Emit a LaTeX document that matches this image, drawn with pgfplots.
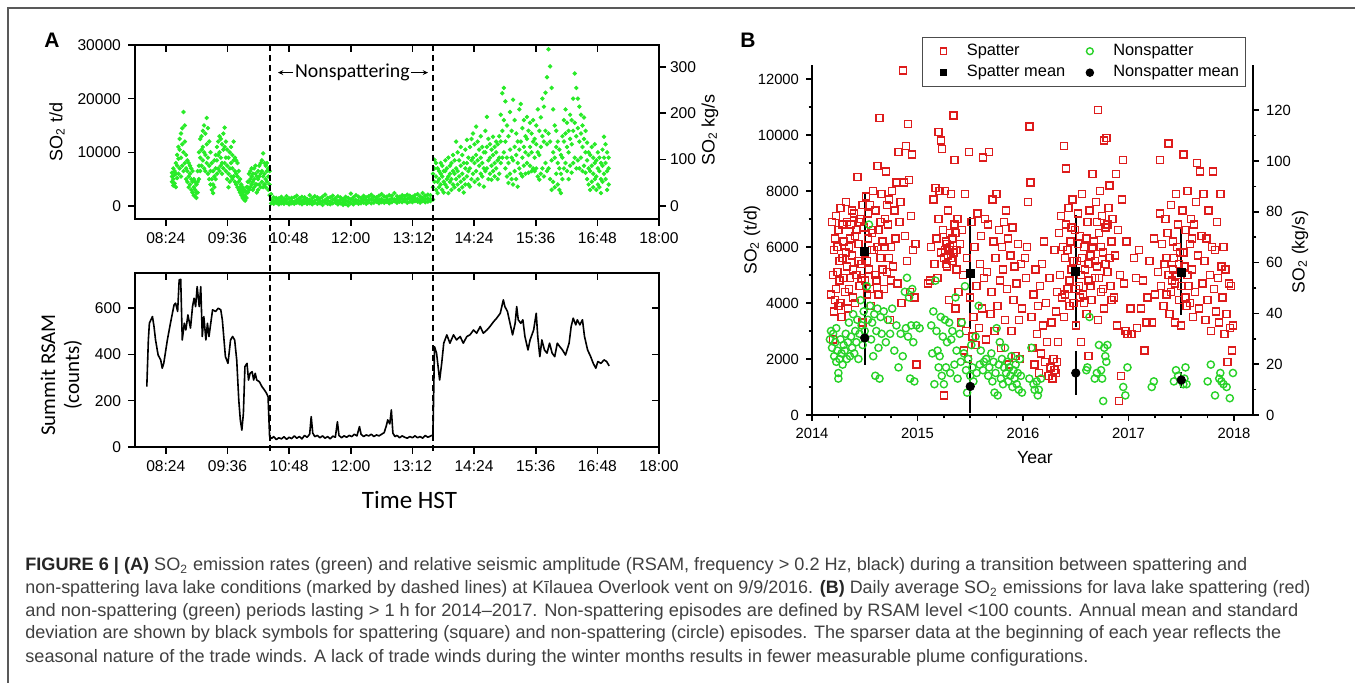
\documentclass[border=0pt]{standalone}
\usepackage{pgfplots}
\pgfplotsset{compat=1.18}
\usepackage{pgfplotstable}
\usepackage{graphicx}
\usepackage{fontspec}
\setmainfont{Liberation Sans}
\newfontfamily\calibri{Carlito}
\usetikzlibrary{arrows.meta}
\definecolor{capgray}{RGB}{64,64,64}
\definecolor{sogreen}{RGB}{40,235,40}
\definecolor{spred}{RGB}{222,28,28}
\definecolor{nsgreen}{RGB}{40,210,40}

\pgfplotstableread{
t a b c
8.52 6.2 4.5 5.5
8.545 5.0 7.0 3.8
8.57 6.5 4.2 5.8
8.595 3.5 6.0 8.0
8.62 5.2 7.5 9.5
8.645 6.0 8.8 11.0
8.67 7.0 10.5 12.5
8.695 5.5 9.0 13.5
8.72 7.5 11.5 14.5
8.745 6.5 10.0 17.5
8.77 8.0 12.0 15.0
8.795 5.0 7.0 9.5
8.82 4.5 6.5 8.5
8.845 3.5 5.5 8.0
8.87 4.0 6.0 7.5
8.895 3.0 5.0 7.0
8.92 2.5 4.5 6.5
8.945 2.0 3.5 5.0
8.97 1.8 3.0 4.5
8.995 1.5 2.5 4.0
9.02 2.5 4.5 6.5
9.045 5.0 7.5 10.0
9.07 6.5 9.0 12.5
9.095 7.5 10.5 13.0
9.12 8.5 11.0 14.0
9.145 7.0 10.0 15.0
9.17 6.5 9.5 13.5
9.195 8.0 11.5 16.4
9.22 6.0 9.0 14.5
9.245 5.0 7.5 12.0
9.27 4.0 6.5 10.0
9.295 3.0 5.0 8.0
9.32 2.4 4.0 6.5
9.345 3.5 5.5 8.5
9.37 5.0 7.0 9.5
9.395 6.0 8.5 11.0
9.42 7.0 9.5 12.0
9.445 6.5 10.0 13.0
9.47 7.5 9.0 12.5
9.495 6.0 8.0 11.5
9.52 7.0 10.5 13.5
9.545 8.0 11.0 14.6
9.57 6.5 9.0 12.0
9.595 5.0 7.5 10.5
9.62 3.5 6.0 9.0
9.645 4.5 7.0 10.0
9.67 5.5 8.0 11.0
9.695 5.0 7.0 9.5
9.72 5.5 8.5 12.0
9.745 4.5 6.5 9.0
9.77 4.0 6.0 8.5
9.795 3.5 5.5 8.0
9.82 3.0 4.5 6.5
9.845 2.5 3.5 5.0
9.87 2.0 3.0 4.0
9.895 1.5 2.5 3.5
9.92 1.2 2.0 3.0
9.945 1.0 1.8 2.8
9.97 1.5 2.5 3.5
9.995 2.5 3.5 4.5
10.02 3.0 4.5 6.0
10.045 3.5 5.0 6.5
10.07 4.0 5.5 7.0
10.095 3.0 4.5 6.0
10.12 3.5 5.0 7.0
10.145 4.0 6.0 7.5
10.17 2.5 4.0 5.5
10.195 3.0 5.0 6.5
10.22 4.0 5.5 7.5
10.245 3.5 6.0 8.0
10.27 4.5 6.5 8.5
10.295 3.5 5.5 9.8
10.32 4.0 6.0 8.0
10.345 3.5 5.0 7.5
10.37 4.5 6.5 8.0
10.395 3.0 5.5 7.0
10.42 2.0 4.0 6.5
10.45 0.5 1.2 2.2
10.5 0.4 0.9 1.6
10.55 0.6 1.1 1.5
10.6 0.3 0.8 1.4
10.65 0.5 1.0 1.7
10.7 0.4 0.9 1.3
10.75 0.6 1.2 1.8
10.8 0.3 0.7 1.4
10.85 0.5 1.0 1.5
10.9 0.4 0.8 1.6
10.95 0.6 1.1 1.9
11.0 0.5 1.0 1.4
11.05 0.3 0.9 1.7
11.1 0.6 1.2 1.6
11.15 0.4 0.8 1.3
11.2 0.5 1.1 2.0
11.25 0.3 0.9 1.5
11.3 0.6 1.0 1.8
11.35 0.4 1.2 1.6
11.4 0.5 0.8 1.4
11.45 0.2 0.9 1.7
11.5 0.6 1.1 2.1
11.55 0.4 1.0 1.5
11.6 0.3 0.8 1.6
11.65 0.5 1.2 1.9
11.7 0.6 1.0 1.4
11.75 0.3 0.9 1.8
11.8 0.5 1.1 1.6
11.85 0.2 0.7 1.3
11.9 0.4 1.0 1.7
11.95 0.1 0.8 1.5
12.0 0.5 1.2 2.3
12.05 0.3 0.9 1.6
12.1 0.6 1.1 2.0
12.15 0.4 1.0 1.7
12.2 0.5 0.9 1.5
12.25 0.6 1.2 1.9
12.3 0.4 1.0 1.6
12.35 0.7 1.1 1.8
12.4 0.5 1.3 2.1
12.45 0.6 1.0 1.7
12.5 0.8 1.2 1.6
12.55 0.5 1.1 1.9
12.6 0.7 1.3 2.2
12.65 0.6 1.0 1.8
12.7 0.8 1.2 1.7
12.75 0.5 1.1 2.0
12.8 0.7 1.4 1.9
12.85 0.9 1.2 2.4
12.9 0.6 1.3 1.8
12.95 0.8 1.1 1.7
13.0 0.7 1.4 2.0
13.05 0.9 1.2 1.8
13.1 0.6 1.3 2.1
13.15 0.8 1.5 1.9
13.2 0.7 1.2 1.7
13.25 0.9 1.4 2.0
13.3 0.8 1.3 2.2
13.35 0.6 1.1 1.8
13.4 0.9 1.5 2.4
13.45 0.7 1.2 1.9
13.5 0.8 1.4 2.1
13.55 0.9 1.3 2.0
13.6 1.2 3.5 6.0
13.63 4.5 7.0 8.6
13.66 3.0 5.5 8.0
13.69 2.4 4.5 7.0
13.72 3.5 5.0 6.5
13.75 4.0 6.0 8.0
13.78 3.0 5.5 7.5
13.81 2.5 4.5 6.5
13.84 4.0 6.5 8.5
13.87 3.5 5.0 7.0
13.9 2.4 5.5 9.0
13.93 4.5 6.0 7.5
13.96 3.0 5.0 8.0
13.99 4.0 6.5 9.5
14.02 3.5 6.0 8.5
14.05 5.0 7.0 12.0
14.08 4.0 6.5 10.0
14.11 3.0 5.5 8.5
14.14 4.5 7.5 11.0
14.17 3.5 6.0 9.5
14.2 2.5 5.0 8.0
14.23 4.0 7.0 10.5
14.26 5.5 8.0 12.3
14.29 4.0 6.5 9.0
14.32 3.6 7.0 11.0
14.35 5.0 8.5 12.5
14.38 6.0 9.0 13.5
14.41 4.5 8.0 11.5
14.44 6.5 9.5 14.8
14.47 5.0 8.5 12.0
14.5 4.0 7.5 10.5
14.53 6.0 9.0 13.0
14.56 5.5 8.0 11.0
14.59 3.6 7.0 10.0
14.62 6.5 10.0 14.0
14.65 7.0 11.0 16.6
14.68 5.0 8.5 12.5
14.71 6.0 9.0 11.5
14.74 4.9 7.5 10.5
14.77 6.5 9.5 12.9
14.8 5.5 8.0 11.0
14.83 7.0 10.0 12.0
14.86 5.0 8.5 11.5
14.89 6.0 9.0 13.0
14.92 8.0 12.0 17.0
14.95 9.0 14.0 21.0
14.98 10.0 16.0 22.0
15.01 7.0 12.0 19.5
15.04 5.5 9.0 15.0
15.07 4.3 8.0 13.0
15.1 6.0 10.5 17.5
15.13 5.0 9.0 14.0
15.16 4.0 8.5 19.8
15.19 6.5 11.0 16.0
15.22 5.0 9.5 13.5
15.25 3.6 8.0 12.0
15.28 7.0 10.5 18.0
15.31 6.0 12.0 19.0
15.34 5.5 9.0 14.5
15.37 7.5 11.0 16.0
15.4 6.0 10.0 13.0
15.43 8.0 12.5 16.6
15.46 6.2 9.5 14.0
15.49 7.5 11.0 15.5
15.52 6.5 10.0 13.5
15.55 7.0 12.0 16.0
15.58 6.5 9.0 12.5
15.61 7.0 11.5 15.0
15.64 5.5 10.0 18.0
15.67 4.9 9.5 14.0
15.7 6.0 11.0 16.5
15.73 7.0 13.0 20.0
15.76 5.5 12.0 18.5
15.79 8.0 14.0 21.1
15.82 6.5 11.5 24.0
15.85 7.0 13.5 29.2
15.88 5.0 12.0 26.0
15.91 3.0 8.5 22.0
15.94 4.5 10.0 18.0
15.97 3.5 9.0 15.0
16.0 6.0 11.0 14.0
16.03 4.0 8.0 12.0
16.06 3.0 7.0 10.5
16.09 2.4 6.0 9.5
16.12 5.0 9.0 13.0
16.15 7.0 12.0 16.0
16.18 8.0 13.5 18.0
16.21 6.5 11.0 15.5
16.24 5.0 10.0 14.0
16.27 7.5 12.5 17.0
16.3 6.2 11.5 16.0
16.33 8.0 14.0 20.0
16.36 9.0 15.5 24.7
16.39 7.0 13.0 22.0
16.42 8.5 14.5 20.0
16.45 7.0 12.0 18.5
16.48 9.0 13.5 17.0
16.51 6.5 11.0 15.0
16.54 7.5 12.5 16.5
16.57 6.2 10.0 14.0
16.6 5.0 8.5 11.8
16.63 4.0 7.0 10.0
16.66 3.0 6.5 9.5
16.69 4.5 7.5 11.0
16.72 3.5 6.0 9.0
16.75 5.0 8.0 11.5
16.78 3.0 5.5 8.5
16.81 4.0 7.0 10.0
16.84 3.5 6.5 9.0
16.87 2.4 5.0 8.0
16.9 4.5 7.5 10.5
16.93 6.0 9.0 12.9
16.96 5.0 8.0 11.5
16.99 3.0 6.5 10.0
17.02 4.0 7.0 9.0
}\greenA

\pgfplotstableread{
t v
8.03 261
8.06 462
8.08 534
8.11 549
8.14 563
8.17 520
8.2 462
8.25 397
8.3 376
8.33 340
8.36 361
8.43 462
8.49 534
8.56 613
8.59 621
8.63 585
8.66 721
8.69 724
8.72 462
8.76 534
8.79 505
8.83 570
8.88 513
8.92 606
8.95 642
8.98 606
9.01 692
9.05 606
9.08 692
9.11 477
9.14 563
9.18 462
9.21 534
9.24 477
9.31 592
9.37 585
9.42 599
9.47 592
9.5 549
9.56 390
9.61 361
9.66 462
9.7 477
9.74 462
9.78 376
9.82 203
9.85 117
9.88 73
9.91 145
9.94 347
9.98 361
10.01 289
10.04 318
10.08 325
10.11 289
10.14 318
10.17 289
10.22 282
10.27 261
10.32 246
10.36 232
10.39 217
10.42 45
10.46 37
10.5 45
10.55 32
10.6 40
10.65 35
10.7 44
10.75 33
10.8 42
10.85 36
10.9 48
10.95 38
11.0 45
11.05 35
11.1 50
11.15 42
11.2 55
11.23 131
11.26 60
11.3 45
11.35 50
11.4 40
11.45 48
11.5 38
11.55 45
11.6 35
11.65 47
11.7 42
11.74 109
11.77 50
11.82 40
11.87 48
11.92 42
11.97 50
12.02 45
12.07 55
12.12 48
12.17 88
12.2 55
12.25 45
12.3 52
12.35 48
12.4 55
12.45 45
12.5 52
12.55 48
12.6 55
12.65 62
12.69 90
12.72 117
12.76 100
12.79 160
12.82 60
12.86 45
12.9 50
12.95 40
13.0 48
13.05 42
13.1 38
13.15 45
13.2 40
13.25 48
13.3 40
13.35 45
13.4 38
13.45 50
13.5 42
13.56 48
13.6 52
13.63 433
13.67 405
13.7 347
13.73 289
13.77 361
13.81 448
13.87 484
13.93 448
14.0 484
14.06 462
14.13 477
14.19 448
14.26 477
14.32 484
14.39 505
14.45 491
14.52 520
14.58 491
14.65 505
14.71 520
14.78 541
14.84 556
14.91 577
14.97 635
15.0 606
15.05 585
15.1 534
15.15 484
15.2 534
15.23 606
15.26 549
15.31 534
15.35 549
15.39 477
15.45 419
15.49 462
15.56 505
15.61 577
15.64 477
15.68 390
15.72 462
15.77 419
15.82 405
15.87 448
15.92 405
15.97 390
16.02 448
16.07 433
16.12 419
16.18 397
16.25 448
16.29 520
16.33 556
16.38 527
16.41 549
16.46 527
16.51 549
16.55 477
16.61 419
16.67 390
16.72 361
16.77 340
16.81 369
16.87 361
16.93 376
16.98 369
17.03 350
}\rsam

\pgfplotsset{
  baseA/.style={scale only axis, width=262pt, height=87pt, anchor=south west,
    xmin=7.8, xmax=18,
    xtick={8.4,9.6,10.8,12,13.2,14.4,15.6,16.8,18},
    axis line style={line width=1pt},
    tick style={line width=0.8pt, black},
    major tick length=3.5pt,
    tick label style={font=\fontsize{7.8}{8}\selectfont}},
  baseB/.style={scale only axis, width=220.5pt, height=175pt, anchor=south west,
    at={(406pt,-207.5pt)}, xmin=2014, xmax=2018.18,
    axis line style={line width=1pt},
    tick style={line width=0.8pt, black},
    major tick length=3pt, minor tick length=1.7pt,
    tick align=outside,
    tick label style={font=\fontsize{7.4}{8}\selectfont}},
}

\begin{document}
\begin{tikzpicture}
\useasboundingbox (0pt,0pt) rectangle (677.5pt,-341.5pt);
\fill[white] (0pt,0pt) rectangle (677.5pt,-341.5pt);
\draw[black!65, line width=0.75pt] (4pt,-341.5pt) -- (4pt,-4pt) -- (677.5pt,-4pt);

% ---------- Panel A, upper ----------
\begin{axis}[baseA, at={(67.5pt,-109.5pt)}, ymin=-2.43, ymax=30,
  xticklabels={08:24,09:36,10:48,12:00,13:12,14:24,15:36,16:48,18:00},
  ytick={0,10,20,30}, yticklabels={0,10000,20000,30000},
  xtick pos=left, ytick pos=left, tick align=outside]
\addplot[only marks, mark=*, mark size=0.9pt, color=sogreen] table[x=t,y=a]{\greenA};
\addplot[only marks, mark=*, mark size=0.9pt, color=sogreen] table[x=t,y=b]{\greenA};
\addplot[only marks, mark=*, mark size=0.9pt, color=sogreen] table[x=t,y=c]{\greenA};
\end{axis}
\begin{axis}[baseA, at={(67.5pt,-109.5pt)}, ymin=-2.43, ymax=30,
  xtick pos=right, xticklabels={}, ytick=\empty, tick align=inside,
  axis line style={draw=none}]
\end{axis}
\begin{axis}[baseA, at={(67.5pt,-109.5pt)}, ymin=-28.1, ymax=347.2,
  xtick=\empty, ytick={0,100,200,300}, yticklabels={0,100,200,300},
  ytick pos=right, yticklabel pos=right, tick align=outside,
  yticklabel style={xshift=-1.5pt},
  axis line style={draw=none}]
\end{axis}

% ---------- Panel A, lower ----------
\begin{axis}[baseA, at={(67.5pt,-223.5pt)}, ymin=0, ymax=751,
  xticklabels={08:24,09:36,10:48,12:00,13:12,14:24,15:36,16:48,18:00},
  ytick={0,200,400,600}, yticklabels={0,200,400,600},
  xtick pos=left, ytick pos=left, tick align=outside]
\addplot[black, line width=0.8pt, line join=round, no marks] table[x=t,y=v]{\rsam};
\end{axis}
\begin{axis}[baseA, at={(67.5pt,-223.5pt)}, ymin=0, ymax=751,
  xtick pos=right, xticklabels={}, ytick={0,200,400,600}, yticklabels={},
  ytick pos=right, tick align=inside, axis line style={draw=none}]
\end{axis}

% dashed transition lines
\draw[black, line width=1pt, dash pattern=on 3pt off 2pt] (135pt,-22.5pt) -- (135pt,-226pt);
\draw[black, line width=1pt, dash pattern=on 3pt off 2pt] (216.5pt,-22.5pt) -- (216.5pt,-226pt);
\node[font=\calibri\fontsize{9.9}{10}\selectfont, inner sep=0] at (176.2pt,-36pt) {Nonspattering};
\draw[-{Stealth[length=2.6pt,width=2.4pt]}, line width=0.6pt] (146.5pt,-36.3pt) -- (139pt,-36.3pt);
\draw[-{Stealth[length=2.6pt,width=2.4pt]}, line width=0.6pt] (205.5pt,-36.3pt) -- (214pt,-36.3pt);

% Panel A labels
\node[font=\bfseries\fontsize{10.5}{11}\selectfont] at (26pt,-20pt) {A};
\node[rotate=90, font=\fontsize{9}{9}\selectfont] at (28.5pt,-66pt) {SO\textsubscript{2} t/d};
\node[rotate=90, font=\fontsize{9}{9}\selectfont] at (355pt,-65pt) {SO\textsubscript{2} kg/s};
\node[rotate=90, font=\calibri\fontsize{10.5}{11}\selectfont] at (24pt,-187.5pt) {Summit RSAM};
\node[rotate=90, font=\calibri\fontsize{10.5}{11}\selectfont] at (36.5pt,-187.5pt) {(counts)};
\node[font=\calibri\fontsize{12.5}{13}\selectfont] at (204.7pt,-250pt) {Time HST};

% ---------- Panel B ----------
\begin{axis}[baseB, ymin=0, ymax=12.5,
  axis x line*=bottom, axis y line*=left,
  xtick={2014,2015,2016,2017,2018}, xticklabels={2014,2015,2016,2017,2018},
  minor x tick num=3,
  ytick={0,2,4,6,8,10,12}, yticklabels={0,2000,4000,6000,8000,10000,12000},
  minor y tick num=1,
  legend columns=2, legend cell align=left,
  legend style={at={(0.249,1.08)}, anchor=north west, draw=black!70, line width=0.6pt,
    font=\fontsize{8.2}{9}\selectfont, inner sep=1.2pt, row sep=-0.5pt,
    /tikz/every even column/.append style={column sep=1pt}}]
\addlegendimage{legend image code/.code={\path[draw=none] (0pt,0pt) -- (19pt,0pt);
  \draw[only marks, mark=square, mark size=1.6pt, color=spred, mark options={line width=0.7pt}] plot coordinates {(9.3pt,0pt)};}}
\addlegendentry{Spatter}
\addlegendimage{legend image code/.code={\path[draw=none] (0pt,0pt) -- (19pt,0pt);
  \draw[only marks, mark=o, mark size=1.7pt, color=nsgreen, mark options={line width=0.7pt}] plot coordinates {(9.3pt,0pt)};}}
\addlegendentry{Nonspatter}
\addlegendimage{legend image code/.code={\path[draw=none] (0pt,0pt) -- (19pt,0pt);
  \draw[only marks, mark=square*, mark size=1.6pt, color=black] plot coordinates {(9.3pt,0pt)};}}
\addlegendentry{Spatter mean}
\addlegendimage{legend image code/.code={\path[draw=none] (0pt,0pt) -- (19pt,0pt);
  \draw[only marks, mark=*, mark size=1.8pt, color=black] plot coordinates {(9.3pt,0pt)};}}
\addlegendentry{Nonspatter mean}
% spatter (red squares), SO2 in thousand t/d
\addplot[forget plot, only marks, mark=square, mark size=1.75pt, color=spred, mark options={line width=0.7pt}] coordinates {
(2014.18,4.3)(2014.19,6.9)(2014.2,2.7)(2014.21,5.9)(2014.22,4.1)(2014.22,6.3)(2014.23,7.1)(2014.24,5.1)(2014.25,3.9)(2014.25,6.6)
(2014.26,4.8)(2014.27,7.4)(2014.28,3.5)(2014.29,5.6)(2014.3,6.2)(2014.31,4.4)(2014.32,7.6)(2014.33,5.3)(2014.34,3.8)(2014.35,6.0)
(2014.36,4.9)(2014.37,6.8)(2014.38,5.7)(2014.39,4.2)(2014.4,7.2)(2014.41,6.4)(2014.42,5.0)(2014.43,8.5)(2014.44,6.1)(2014.45,4.6)
(2014.46,7.0)(2014.47,5.4)(2014.48,3.3)(2014.49,6.7)(2014.5,5.8)(2014.51,7.8)(2014.52,4.3)(2014.53,6.3)(2014.54,5.2)(2014.55,7.5)
(2014.56,3.9)(2014.57,6.5)(2014.58,8.0)(2014.59,5.9)(2014.6,7.3)(2014.61,4.8)(2014.62,8.9)(2014.63,6.6)(2014.64,10.6)(2014.65,5.6)
(2014.66,7.9)(2014.67,6.2)(2014.68,4.5)(2014.69,7.0)(2014.7,8.7)(2014.71,5.1)(2014.72,6.8)(2014.73,7.7)(2014.74,3.4)(2014.75,6.0)
(2014.76,8.0)(2014.77,5.3)(2014.78,7.3)(2014.79,6.3)(2014.8,8.3)(2014.81,4.7)(2014.82,9.4)(2014.83,6.9)(2014.84,7.6)(2014.85,4.0)
(2014.86,12.3)(2014.87,8.3)(2014.88,6.4)(2014.89,9.6)(2014.9,5.5)(2014.91,10.4)(2014.92,8.4)(2014.93,4.4)(2014.94,7.1)(2014.95,9.3)
(2014.96,5.9)(2014.97,4.2)(2014.98,6.1)(2014.99,1.8)
(2014.2,5.0)(2014.21,3.7)(2014.23,4.5)(2014.24,6.0)(2014.26,5.5)(2014.27,4.0)(2014.29,6.8)(2014.3,4.9)(2014.32,5.8)(2014.33,6.9)
(2014.35,4.5)(2014.36,6.3)(2014.38,7.3)(2014.39,5.2)(2014.41,4.0)(2014.42,6.6)(2014.44,5.5)(2014.45,6.9)(2014.47,4.9)(2014.48,7.5)
(2014.5,4.8)(2014.52,5.5)(2014.53,7.2)(2014.55,4.5)(2014.57,5.9)(2014.58,6.6)(2014.6,5.0)(2014.62,6.0)(2014.63,4.3)(2014.65,6.9)
(2014.67,5.2)(2014.69,6.0)(2014.71,7.5)(2014.73,5.6)(2014.75,4.8)
(2015.1,4.7)(2015.12,4.8)(2015.13,6.0)(2015.15,7.7)(2015.16,5.4)(2015.17,8.1)(2015.18,6.3)(2015.19,4.9)(2015.2,10.1)(2015.2,7.0)
(2015.21,8.0)(2015.22,9.8)(2015.22,5.8)(2015.23,9.5)(2015.24,6.6)(2015.25,0.7)(2015.25,5.6)(2015.26,8.0)(2015.27,6.2)(2015.28,5.3)
(2015.29,7.3)(2015.3,5.9)(2015.3,4.1)(2015.31,6.5)(2015.32,7.9)(2015.33,5.5)(2015.34,10.7)(2015.35,9.1)(2015.35,6.8)(2015.36,3.8)
(2015.37,5.2)(2015.38,7.0)(2015.39,4.4)(2015.4,6.1)(2015.41,3.3)(2015.42,6.6)(2015.43,5.0)(2015.44,2.3)(2015.45,7.9)(2015.46,3.0)
(2015.47,5.6)(2015.48,2.0)(2015.49,9.4)(2015.5,4.2)(2015.51,6.9)(2015.52,2.8)(2015.53,3.5)(2015.54,6.0)(2015.55,2.5)(2015.56,4.6)
(2015.57,7.2)(2015.58,3.1)(2015.59,5.4)(2015.6,6.4)(2015.61,3.8)(2015.62,9.2)(2015.63,4.9)(2015.64,7.0)(2015.65,2.7)(2015.66,5.1)
(2015.67,6.8)(2015.68,9.4)(2015.69,3.6)(2015.7,4.4)(2015.71,7.7)(2015.72,6.2)(2015.73,3.0)(2015.74,5.6)(2015.75,7.9)(2015.76,3.9)
(2015.77,6.6)(2015.78,4.8)(2015.79,2.4)(2015.8,6.0)(2015.81,5.2)(2015.82,6.9)(2015.83,3.4)(2015.84,7.3)(2015.85,4.5)(2015.86,6.3)
(2015.87,1.8)(2015.88,5.7)(2015.89,3.0)(2015.9,6.7)(2015.91,4.1)(2015.92,5.3)(2015.93,2.1)(2015.94,4.7)(2015.95,6.1)(2015.96,3.4)
(2015.97,2.0)(2015.98,5.4)(2015.99,3.8)
(2015.26,5.9)(2015.27,5.4)(2015.28,6.1)(2015.29,5.7)(2015.31,6.0)(2015.32,5.6)(2015.33,6.3)(2015.34,5.8)(2015.36,6.5)(2015.37,5.9)
(2016.02,5.6)(2016.03,4.9)(2016.04,6.0)(2016.05,7.6)(2016.06,10.3)(2016.07,8.3)(2016.08,3.5)(2016.09,2.4)(2016.1,4.3)(2016.11,1.8)
(2016.12,5.2)(2016.13,2.9)(2016.14,3.9)(2016.15,1.5)(2016.16,4.6)(2016.17,2.2)(2016.18,5.4)(2016.19,3.2)(2016.2,6.2)(2016.21,1.9)
(2016.22,4.0)(2016.23,2.6)(2016.24,1.4)(2016.25,4.9)(2016.26,1.7)(2016.27,3.3)(2016.28,1.3)(2016.29,2.0)(2016.3,5.9)(2016.3,1.6)
(2016.31,3.7)(2016.31,1.5)(2016.32,4.4)(2016.32,1.9)(2016.33,2.6)(2016.34,6.5)
(2016.35,5.0)(2016.36,7.1)(2016.37,4.2)(2016.38,6.0)(2016.39,9.6)(2016.39,3.5)(2016.4,5.6)(2016.41,8.8)(2016.41,6.8)(2016.42,4.5)
(2016.43,7.4)(2016.44,3.9)(2016.45,6.2)(2016.46,5.2)(2016.47,7.7)(2016.48,4.0)(2016.49,6.6)(2016.5,3.2)(2016.51,5.5)(2016.52,7.2)
(2016.53,4.6)(2016.54,6.4)(2016.55,2.6)(2016.55,5.0)(2016.56,7.9)(2016.57,4.3)(2016.58,6.0)(2016.59,5.2)(2016.6,3.6)(2016.61,6.9)
(2016.62,2.1)(2016.62,4.8)(2016.63,7.3)(2016.64,5.7)(2016.65,4.1)(2016.66,8.6)(2016.67,6.2)(2016.68,4.9)(2016.69,7.6)(2016.7,5.3)
(2016.71,10.9)(2016.71,3.4)(2016.72,6.5)(2016.73,8.0)(2016.74,4.4)(2016.75,7.1)(2016.76,5.8)(2016.77,9.8)(2016.77,3.8)(2016.78,6.7)
(2016.79,9.9)(2016.8,5.1)(2016.81,7.4)(2016.82,8.2)(2016.83,4.6)(2016.84,6.2)(2016.85,7.0)(2016.86,4.2)(2016.87,5.7)(2016.88,8.6)
(2016.89,3.2)(2016.9,6.6)(2016.91,0.5)(2016.92,5.0)(2016.93,1.4)(2016.94,7.7)(2016.95,9.1)(2016.96,4.7)(2016.97,3.0)(2016.98,6.2)
(2016.99,2.9)
(2016.4,4.3)(2016.42,5.9)(2016.44,4.8)(2016.46,6.7)(2016.48,5.5)(2016.5,4.5)(2016.52,6.1)(2016.54,4.2)(2016.56,5.6)(2016.58,4.0)
(2016.6,6.3)(2016.62,5.4)(2016.64,4.6)(2016.66,6.0)(2016.68,5.5)(2016.7,6.9)(2016.72,4.9)(2016.74,6.0)(2016.76,4.5)(2016.78,5.4)
(2016.8,6.8)(2016.82,5.6)(2016.84,4.1)
(2017.02,3.8)(2017.03,2.9)(2017.05,5.6)(2017.07,4.9)(2017.08,3.1)(2017.1,5.9)(2017.12,3.8)(2017.14,4.8)(2017.15,2.3)(2017.17,3.3)
(2017.18,4.2)(2017.2,5.5)(2017.22,3.3)(2017.24,6.3)(2017.25,4.3)
(2017.28,5.1)(2017.3,9.1)(2017.3,7.2)(2017.31,4.6)(2017.32,6.1)(2017.33,3.9)(2017.34,5.4)(2017.35,7.0)(2017.36,4.3)(2017.37,6.5)
(2017.38,9.7)(2017.38,5.0)(2017.39,3.6)(2017.4,7.5)(2017.41,4.8)(2017.42,6.2)(2017.43,5.6)(2017.44,3.3)(2017.45,7.9)(2017.46,5.0)
(2017.47,6.8)(2017.48,4.1)(2017.49,5.8)(2017.5,3.2)(2017.51,7.3)(2017.52,9.3)(2017.53,5.3)(2017.54,6.6)(2017.55,3.9)(2017.56,8.0)
(2017.57,4.6)(2017.58,6.1)(2017.59,7.0)(2017.6,5.2)(2017.61,3.5)(2017.62,6.8)(2017.63,4.4)(2017.64,7.6)(2017.65,9.0)(2017.66,5.7)
(2017.67,3.8)(2017.68,8.7)(2017.69,6.4)(2017.7,4.7)(2017.71,7.9)(2017.72,5.5)(2017.73,3.4)(2017.74,6.3)(2017.75,4.1)(2017.76,7.3)
(2017.77,5.0)(2017.78,3.0)(2017.79,6.0)(2017.8,8.7)(2017.81,4.5)(2017.82,5.9)(2017.83,3.7)(2017.84,6.9)(2017.85,4.9)(2017.86,3.3)
(2017.87,7.9)(2017.88,5.3)(2017.89,4.2)(2017.9,6.0)(2017.91,2.9)(2017.92,5.2)(2017.93,3.6)(2017.94,1.9)(2017.95,4.7)(2017.96,3.1)
(2017.97,4.6)(2017.98,2.3)(2017.99,3.2)
(2017.36,5.6)(2017.4,4.4)(2017.42,5.2)(2017.44,4.7)(2017.46,6.0)(2017.48,5.4)(2017.5,4.6)(2017.52,5.8)(2017.54,4.2)(2017.56,5.0)
(2017.58,4.0)(2017.6,6.3)
};
% nonspatter (green circles)
\addplot[forget plot, only marks, mark=o, mark size=1.8pt, color=nsgreen, mark options={line width=0.7pt}] coordinates {
(2014.17,2.7)(2014.18,3.0)(2014.19,2.4)(2014.2,2.9)(2014.21,2.1)(2014.22,2.6)(2014.23,3.1)(2014.23,1.9)(2014.24,2.3)(2014.25,1.5)
(2014.25,1.3)(2014.26,2.0)(2014.27,2.7)(2014.28,2.2)(2014.29,1.8)(2014.3,2.5)(2014.31,2.3)(2014.32,2.9)(2014.33,2.0)(2014.34,2.6)
(2014.35,3.3)(2014.36,2.1)(2014.37,2.8)(2014.38,2.4)(2014.39,3.6)(2014.4,2.2)(2014.41,3.0)(2014.42,2.6)(2014.43,3.4)(2014.44,2.0)
(2014.45,2.9)(2014.46,4.1)(2014.47,3.2)(2014.48,2.5)(2014.49,3.7)(2014.5,3.0)(2014.52,4.6)(2014.53,3.4)(2014.54,6.8)(2014.55,3.9)
(2014.56,2.7)(2014.57,3.3)(2014.58,2.1)(2014.59,3.6)(2014.6,1.4)(2014.61,3.0)(2014.62,3.8)(2014.63,2.4)(2014.64,1.3)(2014.65,3.5)
(2014.66,2.9)(2014.68,3.7)(2014.7,2.6)(2014.72,3.4)(2014.74,2.9)(2014.76,3.8)(2014.78,2.3)(2014.8,3.2)(2014.82,1.7)(2014.84,2.9)
(2014.86,2.1)(2014.88,4.4)(2014.89,3.1)(2014.9,4.9)(2014.91,2.8)(2014.92,4.2)(2014.93,1.3)(2014.94,3.2)(2014.95,4.5)(2014.96,2.6)
(2014.97,1.2)(2014.99,3.2)(2015.02,3.1)
(2015.13,3.2)(2015.14,2.2)(2015.15,3.7)(2015.16,1.1)(2015.17,4.8)(2015.18,3.0)(2015.19,2.3)(2015.2,1.7)(2015.21,2.1)(2015.22,3.5)
(2015.23,1.4)(2015.24,2.8)(2015.25,1.1)(2015.26,3.4)(2015.27,1.7)(2015.28,2.6)(2015.3,3.3)(2015.31,1.5)(2015.32,2.7)(2015.33,3.0)
(2015.35,1.8)(2015.36,4.2)(2015.37,2.3)(2015.38,1.3)(2015.4,2.9)(2015.41,1.9)(2015.42,3.3)(2015.44,2.2)(2015.45,4.6)(2015.46,1.6)
(2015.47,0.8)(2015.48,2.0)(2015.5,1.4)(2015.51,2.5)(2015.52,1.7)(2015.53,1.2)(2015.55,2.8)(2015.56,1.5)(2015.58,3.9)(2015.59,1.8)
(2015.6,2.3)(2015.62,1.6)(2015.63,1.9)(2015.65,2.0)(2015.67,1.4)(2015.68,1.7)(2015.7,2.2)(2015.71,1.2)(2015.72,1.9)(2015.73,0.8)
(2015.74,1.5)(2015.75,3.1)(2015.76,0.7)(2015.77,1.8)(2015.78,2.6)(2015.79,1.3)(2015.8,2.0)(2015.81,1.1)(2015.82,1.7)(2015.83,2.4)
(2015.84,1.5)(2015.85,1.9)(2015.86,1.2)(2015.87,1.7)(2015.88,1.4)(2015.89,2.1)(2015.9,1.0)(2015.91,1.6)(2015.92,1.3)(2015.93,1.8)
(2015.94,1.1)(2015.95,1.5)(2015.96,0.9)(2015.97,2.0)(2015.98,1.4)(2015.99,0.8)
(2016.06,1.3)(2016.08,2.4)(2016.1,1.1)(2016.11,0.9)(2016.13,1.2)(2016.14,0.7)(2016.15,0.9)(2016.17,1.3)(2016.6,1.6)(2016.61,1.7)
(2016.63,3.5)(2016.68,1.3)(2016.7,1.5)(2016.72,2.5)(2016.74,1.6)(2016.75,1.3)(2016.76,0.5)(2016.77,2.4)(2016.78,2.1)(2016.79,1.9)
(2016.8,2.5)(2016.95,1.0)(2016.97,0.7)(2016.99,1.7)
(2017.22,1.0)(2017.24,1.2)(2017.43,1.2)(2017.45,1.6)(2017.47,1.4)(2017.52,1.1)(2017.53,1.3)(2017.54,1.7)(2017.55,1.1)(2017.75,1.2)
(2017.78,1.8)(2017.82,0.7)(2017.86,1.3)(2017.87,1.5)(2017.88,1.2)(2017.9,1.1)(2017.93,1.0)(2017.96,0.6)(2017.99,1.5)
};
% annual means with standard deviation
\addplot[forget plot, only marks, mark=square*, mark size=2pt, color=black,
  error bars/.cd, y dir=both, y explicit, error mark=none,
  error bar style={line width=1pt, black}] coordinates {
(2014.5,5.85) +- (0,2.05)
(2015.5,5.07) +- (0,2.0)
(2016.5,5.14) +- (0,2.0)
(2017.5,5.1) +- (0,1.53)
};
\addplot[forget plot, only marks, mark=*, mark size=2.1pt, color=black,
  error bars/.cd, y dir=both, y explicit, error mark=none,
  error bar style={line width=1pt, black}] coordinates {
(2014.5,2.75) +- (0,0.95)
(2015.5,1.02) +- (0,0.95)
(2016.5,1.5) +- (0,0.77)
(2017.5,1.25) +- (0,0.3)
};
\end{axis}
\begin{axis}[baseB, ymin=0, ymax=137.8, axis x line=none, axis y line*=right,
  ytick={0,20,40,60,80,100,120}, yticklabels={0,20,40,60,80,100,120},
  minor y tick num=1]
\end{axis}

\node[font=\bfseries\fontsize{10.5}{11}\selectfont] at (374pt,-20pt) {B};
\node[rotate=90, font=\fontsize{8.8}{9}\selectfont] at (376pt,-120pt) {SO\textsubscript{2} (t/d)};
\node[rotate=90, font=\fontsize{8.8}{9}\selectfont] at (650pt,-126pt) {SO\textsubscript{2} (kg/s)};
\node[font=\fontsize{8.8}{9}\selectfont] at (517.5pt,-229pt) {Year};

% ---------- Caption ----------
\begin{scope}[every node/.style={anchor=base west, inner sep=0pt, text=capgray, font=\fontsize{9}{9}\selectfont}]
\node at (12.5pt,-285.5pt) {\resizebox{611pt}{\height}{\textcolor{black!85}{\textbf{FIGURE 6 | (A)}} SO\textsubscript{2} emission rates (green) and relative seismic amplitude (RSAM, frequency > 0.2 Hz, black) during a transition between spattering and}};
\node at (12.5pt,-297pt) {\resizebox{642.5pt}{\height}{non-spattering lava lake conditions (marked by dashed lines) at Kīlauea Overlook vent on 9/9/2016. \textcolor{black!85}{\textbf{(B)}} Daily average SO\textsubscript{2} emissions for lava lake spattering (red)}};
\node at (12.5pt,-308.5pt) {\resizebox{636.5pt}{\height}{and non-spattering (green) periods lasting > 1 h for 2014–2017. Non-spattering episodes are defined by RSAM level <100 counts. Annual mean and standard}};
\node at (12.5pt,-319.5pt) {\resizebox{628pt}{\height}{deviation are shown by black symbols for spattering (square) and non-spattering (circle) episodes. The sparser data at the beginning of each year reflects the}};
\node at (12.5pt,-331pt) {\resizebox{531.5pt}{\height}{seasonal nature of the trade winds. A lack of trade winds during the winter months results in fewer measurable plume configurations.}};
\end{scope}
\end{tikzpicture}
\end{document}
